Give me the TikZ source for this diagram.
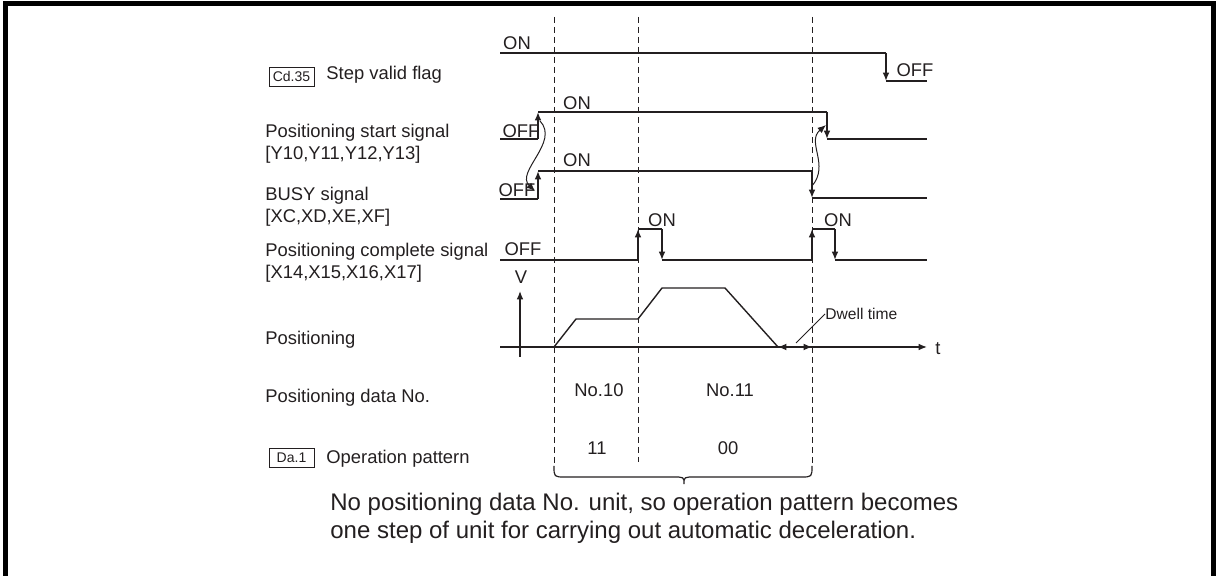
\documentclass[tikz,border=0pt]{standalone}
\usepackage{fontspec}
\setmainfont{Liberation Sans}
\usetikzlibrary{arrows.meta}
\definecolor{ink}{HTML}{231F20}
\begin{document}
\begin{tikzpicture}[x=0.5pt,y=-0.5pt,
  sig/.style={draw=ink, line width=0.8pt},
  tip/.style={-{Latex[length=4.2pt,width=3.4pt]}},
  both/.style={{Latex[length=4.2pt,width=3.4pt]}-{Latex[length=4.2pt,width=3.4pt]}},
  grid/.style={draw=ink, line width=0.5pt, dash pattern=on 3pt off 2pt},
  txt/.style={text=ink, inner sep=0pt, font=\fontsize{9.2}{11}\selectfont},
  sm/.style={text=ink, inner sep=0pt, font=\fontsize{7.8}{9}\selectfont},
  big/.style={text=ink, inner sep=0pt, font=\fontsize{12}{14}\selectfont},
  tag/.style={draw=ink, line width=0.5pt, minimum width=22.5pt, minimum height=9.8pt, inner sep=0pt, text=ink, font=\fontsize{7}{8}\selectfont}]
\useasboundingbox (0,0) rectangle (1216,576);
% frame
\draw[line width=2.5pt, draw=black] (5.5,580) -- (5.5,3.5) -- (1213.5,3.5) -- (1213.5,580);

% left labels
\node[tag] (cd) at (291.5,77) {Cd.35};
\node[txt, anchor=base west] (lstep) at (326,79.6) {Step valid flag};
\node[txt, anchor=base west] (lstartA) at (265,138) {Positioning start signal};
\node[txt, anchor=base west] (lstartB) at (265,160) {[Y10,Y11,Y12,Y13]};
\node[txt, anchor=base west] (lbusyA) at (265,200.5) {BUSY signal};
\node[txt, anchor=base west] (lbusyB) at (265,222.5) {[XC,XD,XE,XF]};
\node[txt, anchor=base west] (lcompA) at (265,256.5) {Positioning complete signal};
\node[txt, anchor=base west] (lcompB) at (265,278.5) {[X14,X15,X16,X17]};
\node[txt, anchor=base west] (lpos) at (265,344.5) {Positioning};
\node[txt, anchor=base west] (ldata) at (265,402.5) {Positioning data No.};
\node[tag] (da) at (291.5,458) {Da.1};
\node[txt, anchor=base west] (lop) at (326,463.5) {Operation pattern};

% dashed time markers
\coordinate (d1t) at (554,17); \coordinate (d1b) at (554,466);
\coordinate (d2t) at (638,17); \coordinate (d2b) at (638,462);
\coordinate (d3t) at (812,17); \coordinate (d3b) at (812,466);
\draw[grid] (d1t) -- (d1b);
\draw[grid] (d2t) -- (d2b);
\draw[grid] (d3t) -- (d3b);

% brace
\coordinate (btip) at (684,484);
\draw[sig, line width=0.6pt] (d1b) .. controls (554,477) .. (565,477) -- (673,477)
  .. controls (684,477) .. (btip) .. controls (684,477) .. (695,477) -- (801,477)
  .. controls (812,477) .. (d3b);

% Step valid flag
\draw[sig] (500,53) -- (886,53);
\draw[sig,tip] (886,53) -- (886,81);
\draw[sig] (886,81) -- (927,81);
\node[txt] (sON) at (517,43) {ON};
\node[txt] (sOFF) at (915,70) {OFF};

% Positioning start signal
\coordinate (ps1) at (538,139); \coordinate (ps2) at (538,112);
\coordinate (ps3) at (827,112); \coordinate (ps4) at (827,139);
\draw[sig] (500,139) -- (ps1);
\draw[sig,tip] (ps1) -- (ps2);
\draw[sig] (ps2) -- (ps3);
\draw[sig,tip] (ps3) -- (ps4);
\draw[sig] (ps4) -- (927,139);
\node[txt] (pOFF) at (521,131) {OFF};
\node[txt] (pON) at (577,103) {ON};

% BUSY signal
\coordinate (b1) at (538,199); \coordinate (b2) at (538,171);
\coordinate (b3) at (812,171); \coordinate (b4) at (812,198);
\draw[sig] (500,199) -- (b1);
\draw[sig,tip] (b1) -- (b2);
\draw[sig] (b2) -- (b3);
\draw[sig,tip] (b3) -- (b4);
\draw[sig] (b4) -- (927,198);
\node[txt] (bOFF) at (517,190) {OFF};
\node[txt] (bON) at (577,160) {ON};

% causal curves
\coordinate (c1s) at (540,121); \coordinate (c1e) at (535,191);
\draw[sig, line width=0.5pt, tip] (c1s) .. controls (560,142) and (515,172) .. (c1e);
\coordinate (c2s) at (812,186); \coordinate (c2e) at (826,125);
\draw[sig, line width=0.5pt, tip] (c2s) .. controls (830,165) and (806,142) .. (c2e);

% Positioning complete signal
\draw[sig] (500,260) -- (638,260);
\draw[sig,tip] (638,260) -- (638,229);
\draw[sig] (638,229) -- (662,229);
\draw[sig,tip] (662,229) -- (662,260);
\draw[sig] (662,260) -- (812,260);
\draw[sig,tip] (812,260) -- (812,229);
\draw[sig] (812,229) -- (835,229);
\draw[sig,tip] (835,229) -- (835,260);
\draw[sig] (835,260) -- (927,260);
\node[txt] (cOFF) at (523,249) {OFF};
\node[txt] (cON1) at (662,220) {ON};
\node[txt] (cON2) at (838,220) {ON};

% speed profile
\draw[sig, line width=0.7pt, tip] (520,357) -- (520,291);
\node[txt] (vl) at (521,277) {V};
\draw[sig, line width=0.7pt, tip] (500,347) -- (927,347);
\node[txt] (tl) at (938,349) {t};
\draw[sig, line width=0.7pt] (554,347) -- (576,319) -- (638,319) -- (662,288) -- (725,288) -- (778,347);
\draw[sig, line width=0.6pt, both] (778,347) -- (812,347);
\node[sm, anchor=west] (dw) at (825,314) {Dwell time};
\draw[sig, line width=0.5pt] (796,343) -- (dw.west);

% data numbers
\node[txt] (n10) at (599,390) {No.10};
\node[txt] (n11) at (730,390) {No.11};
\node[txt] (o11) at (597,448) {11};
\node[txt] (o00) at (728,448) {00};

% note
\node[big, anchor=base west] (noteA) at (330,510.5) {No positioning data No. unit, so operation pattern becomes};
\node[big, anchor=base west] (noteB) at (330,538.5) {one step of unit for carrying out automatic deceleration.};
\end{tikzpicture}
\end{document}
